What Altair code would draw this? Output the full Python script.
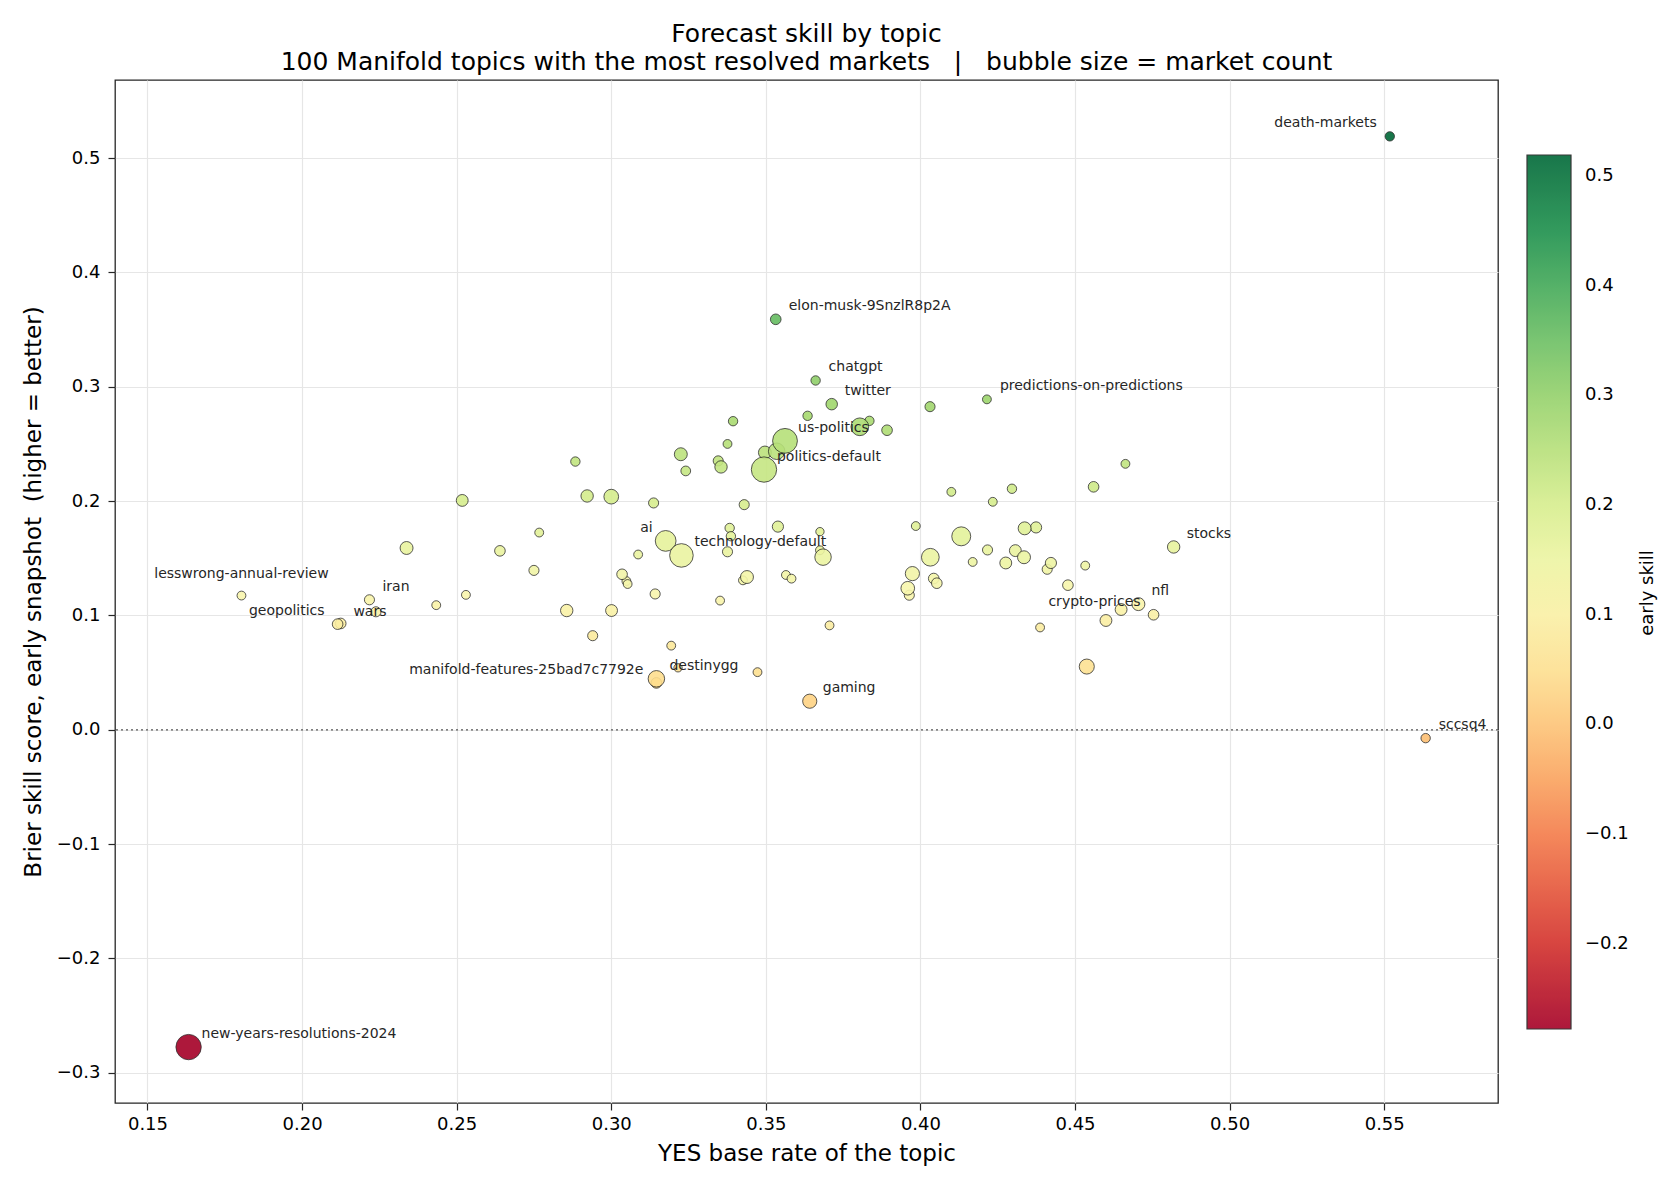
import altair as alt
import pandas as pd

# ---- data ----
topics = [
    "elon-musk-9SnzlR8p2A", "chatgpt", "twitter", "", "", "", "", "",
    "us-politics", "", "", "politics-default", "", "", "", "", "", "", "", "", "", "",
    "", "", "ai", "technology-default", "", "", "", "", "", "", "", "", "", "", "",
    "", "", "", "", "", "", "", "", "", "", "", "",
    "destinygg", "manifold-features-25bad7c7792e", "", "", "gaming",
    "", "predictions-on-predictions", "", "", "", "", "", "", "", "", "", "", "",
    "", "", "", "", "", "", "", "", "", "", "", "", "",
    "stocks", "", "nfl", "", "crypto-prices", "", "",
    "", "", "lesswrong-annual-review", "iran", "", "", "wars", "", "geopolitics",
    "death-markets", "sccsq4", "new-years-resolutions-2024",
]
base_rate = [
    0.3532, 0.3661, 0.3713, 0.3635, 0.3394, 0.3804, 0.3835, 0.3892,
    0.3562, 0.3535, 0.3497, 0.3494, 0.3376, 0.3225, 0.3241, 0.3346, 0.3355, 0.2884, 0.2922, 0.3000, 0.3137, 0.3430,
    0.2767, 0.2640, 0.3176, 0.3227, 0.3087, 0.2750, 0.3035, 0.3049, 0.3053, 0.3142, 0.2856, 0.3001, 0.2940, 0.3194, 0.3352,
    0.3383, 0.3387, 0.3376, 0.3439, 0.3426, 0.3539, 0.3565, 0.3583, 0.3675, 0.3675, 0.3685, 0.3706,
    0.3146, 0.3146, 0.3216, 0.3473, 0.3642,
    0.4031, 0.4215, 0.4663, 0.4560, 0.4100, 0.4296, 0.4234, 0.3985, 0.4132, 0.4337, 0.4374, 0.4032, 0.4217,
    0.4169, 0.4276, 0.4307, 0.4335, 0.4422, 0.4410, 0.4533, 0.4477, 0.3974, 0.4043, 0.4053, 0.3959, 0.3964,
    0.4819, 0.4649, 0.4705, 0.4600, 0.4754, 0.4387, 0.4538,
    0.2518, 0.2338, 0.1804, 0.2218, 0.2434, 0.2530, 0.2239, 0.2125, 0.2115,
    0.5518, 0.5634, 0.1633,
]
early_skill = [
    0.3590, 0.3055, 0.2848, 0.2746, 0.2699, 0.2650, 0.2702, 0.2620,
    0.2527, 0.2436, 0.2425, 0.2276, 0.2500, 0.2410, 0.2264, 0.2352, 0.2299, 0.2346, 0.2045, 0.2039, 0.1984, 0.1969,
    0.1725, 0.1565, 0.1652, 0.1525, 0.1533, 0.1394, 0.1360, 0.1301, 0.1275, 0.1188, 0.1043, 0.1043, 0.0823, 0.0736, 0.1130,
    0.1765, 0.1693, 0.1557, 0.1336, 0.1307, 0.1777, 0.1354, 0.1322, 0.1733, 0.1570, 0.1510, 0.0913,
    0.0446, 0.0410, 0.0542, 0.0504, 0.0250,
    0.2826, 0.2890, 0.2326, 0.2125, 0.2081, 0.2108, 0.1994, 0.1782, 0.1692, 0.1762, 0.1770, 0.1509, 0.1573,
    0.1468, 0.1459, 0.1567, 0.1509, 0.1459, 0.1404, 0.1436, 0.1265, 0.1366, 0.1323, 0.1282, 0.1238, 0.1177,
    0.1599, 0.1052, 0.1099, 0.0956, 0.1006, 0.0895, 0.0553,
    0.2006, 0.1590, 0.1174, 0.1137, 0.1090, 0.1180, 0.1032, 0.0930, 0.0924,
    0.5190, -0.0073, -0.2775,
]
market_count = [
    162, 126, 190, 126, 126, 450, 126, 162,
    882, 389, 240, 920, 112, 240, 136, 146, 220, 126, 220, 310, 146, 146,
    112, 162, 616, 796, 112, 146, 162, 112, 112, 146, 220, 202, 146, 112, 112,
    126, 126, 146, 240, 112, 179, 112, 112, 99, 112, 389, 112,
    389, 162, 99, 112, 288,
    146, 112, 112, 162, 112, 126, 112, 112, 515, 240, 179, 450, 146,
    112, 202, 202, 240, 179, 146, 112, 162, 288, 162, 162, 267, 146,
    220, 202, 240, 202, 162, 112, 325,
    202, 240, 112, 146, 112, 112, 146, 162, 162,
    126, 126, 920,
]

df = pd.DataFrame({
    "topic": topics,
    "base_rate": base_rate,
    "early_skill": early_skill,
    "markets": market_count,
})

FONT = "DejaVu Sans"
XDOM = [0.1395, 0.5868]
YDOM = [-0.3264, 0.5683]
W, H = 1383, 1023
NB = "\u00a0"

x_enc = alt.X(
    "base_rate:Q",
    title="YES base rate of the topic",
    scale=alt.Scale(domain=XDOM, nice=False, zero=False),
    axis=alt.Axis(values=[0.15, 0.20, 0.25, 0.30, 0.35, 0.40, 0.45, 0.50, 0.55],
                  format=".2f", labelPadding=5, titlePadding=9),
)
y_enc = alt.Y(
    "early_skill:Q",
    title="Brier skill score, early snapshot" + NB + " (higher = better)",
    scale=alt.Scale(domain=YDOM, nice=False, zero=False),
    axis=alt.Axis(values=[-0.3, -0.2, -0.1, 0.0, 0.1, 0.2, 0.3, 0.4, 0.5],
                  format=".1f", labelPadding=8, titlePadding=11),
)

base = alt.Chart(df)

zero_line = alt.Chart(pd.DataFrame({"v": [0.0]})).mark_rule(
    color="#555555", strokeDash=[2, 3], strokeWidth=1.3
).encode(y=alt.Y("v:Q", scale=alt.Scale(domain=YDOM, nice=False, zero=False)))

points = base.mark_circle(
    opacity=0.9, stroke="#1a1a1a", strokeWidth=0.8
).encode(
    x=x_enc,
    y=y_enc,
    size=alt.Size("markets:Q", scale=alt.Scale(type="linear", domain=[0, 1000], range=[0, 698]),
                  legend=None),
    color=alt.Color(
        "early_skill:Q",
        scale=alt.Scale(scheme="redyellowgreen"),
        legend=alt.Legend(
            title=None,
            orient="none", legendX=1412, legendY=75,
            direction="vertical",
            gradientLength=874, gradientThickness=44,
            gradientStrokeColor="#222222", gradientStrokeWidth=1.2,
            values=[-0.2, -0.1, 0.0, 0.1, 0.2, 0.3, 0.4, 0.5], format=".1f",
            labelFontSize=18, labelFont=FONT, labelColor="black", labelOffset=14,
            labelOverlap=False,
        ),
    ),
    order=alt.Order("markets:Q"),
)

cbar_title = alt.Chart(pd.DataFrame({"t": ["early skill"]})).mark_text(
    font=FONT, fontSize=18, color="black", angle=270, align="center", baseline="middle"
).encode(
    x=alt.value(1533), y=alt.value(513), text="t:N"
)

right_lab = ["elon-musk-9SnzlR8p2A", "chatgpt", "twitter", "us-politics", "politics-default",
             "predictions-on-predictions", "stocks", "nfl", "technology-default", "destinygg",
             "gaming", "sccsq4", "new-years-resolutions-2024", "iran"]
left_lab = ["death-markets", "crypto-prices", "ai", "manifold-features-25bad7c7792e", "geopolitics"]


def label_layer(names, **kw):
    return base.transform_filter(
        alt.FieldOneOfPredicate(field="topic", oneOf=names)
    ).mark_text(font=FONT, fontSize=14, color="#262626", baseline="middle", **kw).encode(
        x=alt.X("base_rate:Q", scale=alt.Scale(domain=XDOM, nice=False, zero=False)),
        y=alt.Y("early_skill:Q", scale=alt.Scale(domain=YDOM, nice=False, zero=False)),
        text="topic:N",
    )


labels = [
    label_layer(right_lab, align="left", dx=13, dy=-13),
    label_layer(left_lab, align="right", dx=-13, dy=-13),
    label_layer(["lesswrong-annual-review"], align="center", dx=0, dy=-22),
    label_layer(["wars"], align="center", dx=-6, dy=0),
]

subtitle = ("100 Manifold topics with the most resolved markets" + NB + NB + " |" + NB + NB
            + " bubble size = market count")

chart = alt.layer(zero_line, points, *labels, cbar_title).properties(
    width=W,
    height=H,
    padding={"left": 107, "top": 72, "right": 170, "bottom": 76},
    autosize=alt.AutoSizeParams(type="none"),
    title=alt.TitleParams(
        text="Forecast skill by topic",
        subtitle=subtitle,
        font=FONT, subtitleFont=FONT, fontSize=25, subtitleFontSize=25,
        fontWeight="normal", color="black", subtitleColor="black",
        anchor="middle", frame="group", offset=5, subtitlePadding=3,
    ),
).configure_view(
    stroke="#262626", strokeWidth=1.3
).configure_axis(
    domain=False,
    grid=True, gridColor="#e6e6e6", gridWidth=1.2,
    tickColor="#262626", tickSize=7, tickWidth=1.2,
    labelFont=FONT, labelFontSize=18, labelColor="black",
    titleFont=FONT, titleFontSize=23, titleFontWeight="normal", titleColor="black",
    labelFlush=False,
)

chart.save("out.html", embed_options={"renderer": "svg", "actions": False})
